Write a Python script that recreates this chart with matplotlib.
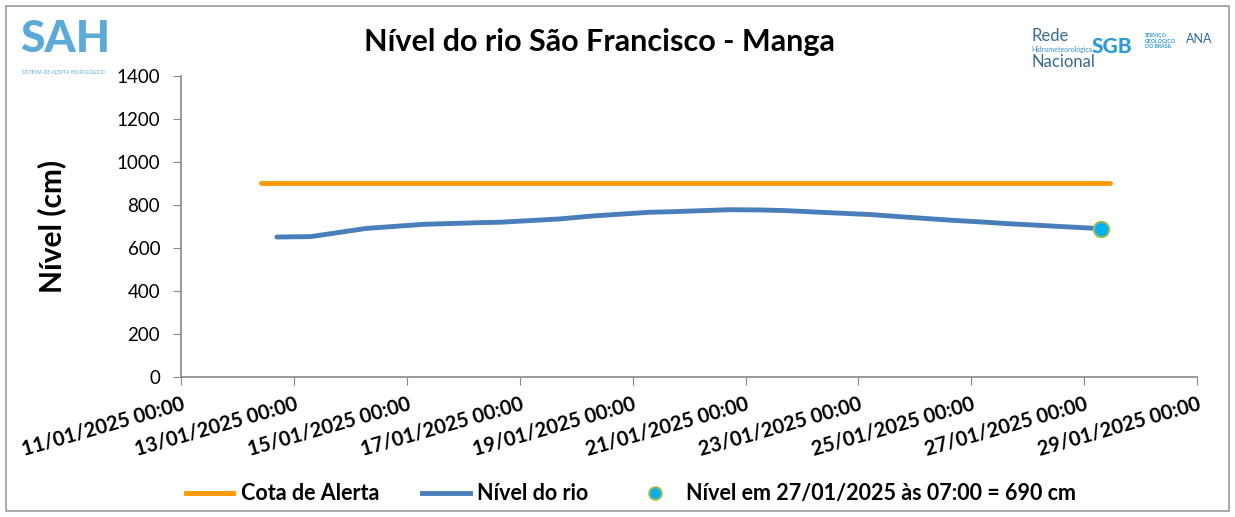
import matplotlib
matplotlib.use("Agg")
import matplotlib.pyplot as plt
import matplotlib.dates as mdates
from matplotlib.lines import Line2D
from matplotlib.patches import Rectangle
import pandas as pd

plt.rcParams["font.family"] = ["Lato", "DejaVu Sans"]

# dados
nivel_datas = [
    "2025-01-12 16:45", "2025-01-13 07:10", "2025-01-14 06:40", "2025-01-15 07:00",
    "2025-01-16 07:10", "2025-01-16 16:00", "2025-01-17 16:50", "2025-01-18 07:00",
    "2025-01-19 07:00", "2025-01-19 17:15", "2025-01-20 16:50", "2025-01-21 06:15",
    "2025-01-21 16:50", "2025-01-22 06:15", "2025-01-23 06:00", "2025-01-23 15:50",
    "2025-01-24 15:35", "2025-01-25 06:00", "2025-01-25 15:50", "2025-01-27 07:00",
]
nivel_cm = [651, 653, 691, 710, 718, 720, 735, 749, 766, 769,
            778, 777, 774, 767, 755, 747, 729, 720, 713, 690]
alerta_datas = ["2025-01-12 10:00", "2025-01-27 11:00"]
alerta_cm = [900, 900]
ultimo_data = "2025-01-27 07:00"
ultimo_cm = 690

x_ticks = pd.date_range("2025-01-11", "2025-01-29", freq="2D")
y_ticks = list(range(0, 1401, 200))


def main():
    fig = plt.figure(figsize=(12.35, 5.17), dpi=100)
    ax = fig.add_axes([0.1466, 0.2708, 0.8227, 0.5822])

    t_nivel = pd.to_datetime(nivel_datas)
    t_alerta = pd.to_datetime(alerta_datas)

    ax.plot(t_alerta, alerta_cm, color="#FF9900", lw=3.5, solid_capstyle="round")
    ax.plot(t_nivel, nivel_cm, color="#4A7EBB", lw=3.5, solid_capstyle="round")
    ax.plot(pd.to_datetime([ultimo_data]), [ultimo_cm], "o", ms=11,
            mfc="#00B0F0", mec="#9BBB59", mew=1.5, zorder=5)

    ax.set_xlim(x_ticks[0], x_ticks[-1])
    ax.set_ylim(0, 1400)
    ax.set_yticks(y_ticks)
    ax.set_xticks(x_ticks)
    ax.xaxis.set_major_formatter(mdates.DateFormatter("%d/%m/%Y %H:%M"))
    for lab in ax.get_xticklabels():
        lab.set_rotation(16)
        lab.set_ha("right")
        lab.set_rotation_mode("anchor")
        lab.set_fontweight("bold")
        lab.set_fontsize(14.5)
    ax.tick_params(axis="y", labelsize=13.5, length=6, color="#888888", pad=9)
    ax.tick_params(axis="x", length=6, color="#888888", pad=6)

    for s in ["top", "right"]:
        ax.spines[s].set_visible(False)
    ax.spines["left"].set_color("#888888")
    ax.spines["bottom"].set_color("#888888")
    ax.spines["left"].set_linewidth(1.2)
    ax.spines["bottom"].set_linewidth(1.2)

    ax.set_ylabel("Nível (cm)", fontsize=21.5, fontweight="bold", labelpad=36)
    fig.text(0.485, 0.918, "Nível do rio São Francisco - Manga", ha="center",
             va="center", fontsize=22, fontweight="bold")

    # logos (texto)
    fig.text(0.016, 0.925, "SAH", color="#5BAAD8", fontsize=32, fontweight="black",
             va="center", ha="left")
    fig.text(0.018, 0.86, "SISTEMA DE ALERTA HIDROLÓGICO", color="#5BAAD8",
             fontsize=3.5, va="center", ha="left")
    fig.text(0.835, 0.915, "Rede", color="#3A6A8C", fontsize=12, va="bottom", ha="left")
    fig.text(0.835, 0.905, "Hidrometeorológica", color="#3A8FC0", fontsize=5, va="center", ha="left")
    fig.text(0.835, 0.895, "Nacional", color="#3A6A8C", fontsize=12, va="top", ha="left")
    fig.text(0.884, 0.91, "SGB", color="#2E9BD6", fontsize=15, fontweight="black",
             va="center", ha="left")
    fig.text(0.927, 0.92, "SERVIÇO\nGEOLÓGICO\nDO BRASIL", color="#2E9BD6", fontsize=3.8,
             fontweight="bold", va="center", ha="left", linespacing=1.1)
    fig.text(0.96, 0.925, "ANA", color="#2E6DA4", fontsize=9, va="center", ha="left")

    handles = [
        Line2D([], [], color="#FF9900", lw=3.5),
        Line2D([], [], color="#4A7EBB", lw=3.5),
        Line2D([], [], ls="none", marker="o", ms=9, mfc="#00B0F0", mec="#9BBB59", mew=1.5),
    ]
    labels = ["Cota de Alerta", "Nível do rio", "Nível em 27/01/2025 às 07:00 = 690 cm"]
    fig.legend(handles, labels, loc="center", bbox_to_anchor=(0.511, 0.045), ncol=3,
               frameon=False, prop={"weight": "bold", "size": 15.5}, handlelength=2.2,
               columnspacing=2.0, handletextpad=0.35)

    fig.patches.append(Rectangle((0.005, 0.012), 0.99, 0.976, transform=fig.transFigure,
                                 fill=False, edgecolor="#999999", lw=1.2))

    fig.savefig("out.png", dpi=100)


if __name__ == "__main__":
    main()
